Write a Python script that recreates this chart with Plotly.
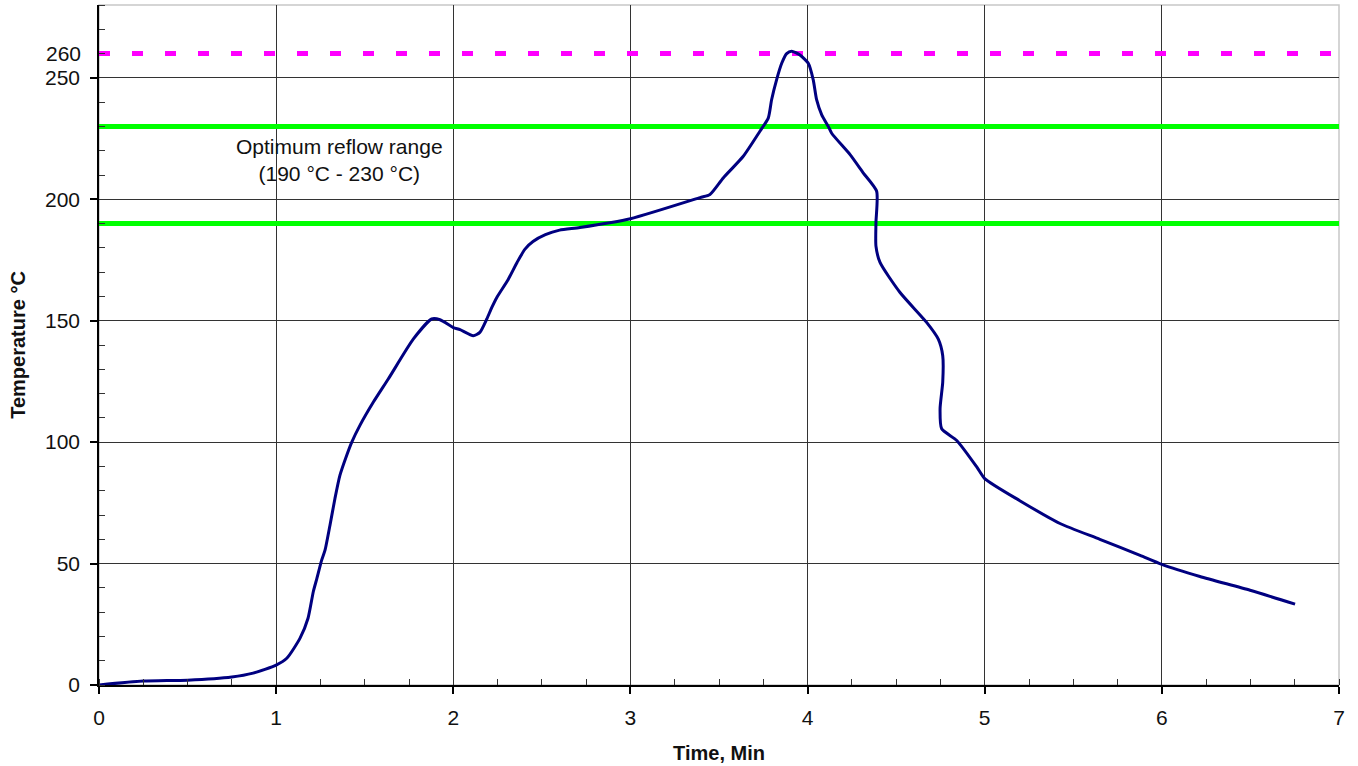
import plotly.graph_objects as go

# Reflow profile
time_min = [0, 0.25, 0.5, 0.75, 0.87, 1.0, 1.06, 1.135, 1.18, 1.21, 1.23, 1.257, 1.276,
            1.304, 1.332, 1.36, 1.398, 1.427, 1.473, 1.549, 1.633, 1.774, 1.878, 1.925,
            2.0, 2.038, 2.113, 2.15, 2.189, 2.217, 2.245, 2.31, 2.36, 2.405, 2.45, 2.52, 2.6, 2.715,
            3.0, 3.393, 3.449, 3.524, 3.637, 3.731, 3.778, 3.797, 3.825, 3.854, 3.882,
            3.91, 3.957, 4.004, 4.032, 4.051, 4.08, 4.117, 4.136, 4.24, 4.315, 4.39,
            4.386, 4.386, 4.409, 4.522, 4.672, 4.738, 4.763, 4.763, 4.748, 4.757, 4.842,
            4.955, 5.0, 5.198, 5.425, 5.65, 5.877, 6.0, 6.215, 6.498, 6.752]
temperature_c = [0, 1.6, 2, 3.3, 4.9, 8.2, 11, 19.3, 27.5, 38.5, 43.9, 51.4, 55.5,
                 65.8, 76.8, 86.3, 94.5, 100, 106.9, 116.5, 126, 142.4, 150.7, 150.4,
                 147.2, 146.3, 143.8, 145.2, 150.7, 155.4, 159.5, 167, 174, 179.5, 182.6, 185.4, 187.3, 188.4,
                 192, 200.7, 202, 208.8, 217.7, 228, 233.4, 241, 249.2, 256, 260,
                 261, 259.4, 256, 249.2, 241, 234.8, 230, 227.2, 218.4, 210.8, 203.3,
                 190.3, 180.7, 174, 161.6, 149.3, 142.4, 135.6, 124.7, 113.7, 105.5, 100.7,
                 89.8, 85, 75.9, 66.5, 60, 53.4, 49.7, 44.7, 39, 33.3]

range_x = [0, 7]
reflow_low = [190, 190]
reflow_high = [230, 230]
peak_limit = [260, 260]

y_tick_vals = [0, 50, 100, 150, 200, 250]
y_tick_text = ["0", "50", "100", "150", "200", "250"]
x_tick_vals = [0, 1, 2, 3, 4, 5, 6, 7]
x_tick_text = ["0", "1", "2", "3", "4", "5", "6", "7"]
peak_label = "260"
annotation_text = "Optimum reflow range<br>(190 °C - 230 °C)"

FONT = "Liberation Sans, Arial, sans-serif"

fig = go.Figure()
fig.add_trace(go.Scatter(x=range_x, y=peak_limit, mode="lines",
                         line=dict(color="#FF00FF", width=5, dash="11px,22px"),
                         hoverinfo="skip"))
fig.add_trace(go.Scatter(x=range_x, y=reflow_high, mode="lines",
                         line=dict(color="#00FF00", width=5), hoverinfo="skip"))
fig.add_trace(go.Scatter(x=range_x, y=reflow_low, mode="lines",
                         line=dict(color="#00FF00", width=5), hoverinfo="skip"))
fig.add_trace(go.Scatter(x=time_min, y=temperature_c, mode="lines",
                         line=dict(color="#000080", width=3, shape="spline", smoothing=0.6)))

fig.add_annotation(x=1.355, y=216, xref="x", yref="y", text=annotation_text,
                   showarrow=False, font=dict(family=FONT, size=21, color="#111111"),
                   align="center", xanchor="center", yanchor="middle")
fig.add_annotation(x=-0.0129, y=260, xref="paper", yref="y", text=peak_label,
                   showarrow=False, font=dict(family=FONT, size=21, color="#111111"),
                   xanchor="right", yanchor="middle")

# light frame (top / right)
fig.add_shape(type="rect", xref="paper", yref="paper", x0=0, y0=0, x1=1, y1=1,
              line=dict(color="#c8c8c8", width=1.5), layer="below")

fig.update_layout(
    width=1358, height=766,
    margin=dict(l=99, r=19, t=5, b=79),
    paper_bgcolor="white", plot_bgcolor="white",
    showlegend=False,
    font=dict(family=FONT, size=20, color="#111111"),
    xaxis=dict(
        range=[0, 7], tickvals=x_tick_vals, ticktext=x_tick_text,
        showgrid=True, gridcolor="#333333", gridwidth=1,
        showline=True, linecolor="black", linewidth=1.5,
        ticks="outside", ticklen=7, tickcolor="black", tickwidth=1.5,
        minor=dict(dtick=0.25, ticks="inside", ticklen=6, tickcolor="#333333",
                   tickwidth=1, showgrid=False),
        zeroline=False,
        ticklabelstandoff=6,
        title=dict(text="<b>Time, Min</b>", font=dict(family=FONT, size=20), standoff=18),
        tickfont=dict(family=FONT, size=21),
    ),
    yaxis=dict(
        range=[0, 280], tickvals=y_tick_vals, ticktext=y_tick_text,
        showgrid=True, gridcolor="#333333", gridwidth=1,
        showline=True, linecolor="black", linewidth=1.5,
        ticks="outside", ticklen=7, tickcolor="black", tickwidth=1.5,
        minor=dict(dtick=10, ticks="inside", ticklen=6, tickcolor="#333333",
                   tickwidth=1, showgrid=False),
        zeroline=False,
        ticklabelstandoff=6,
        title=dict(text="<b>Temperature °C</b>", font=dict(family=FONT, size=20), standoff=14),
        tickfont=dict(family=FONT, size=21),
    ),
)

fig.write_html("out.html", config={"displayModeBar": False},
               post_script="document.body.style.margin='0';document.body.style.overflow='hidden';")
